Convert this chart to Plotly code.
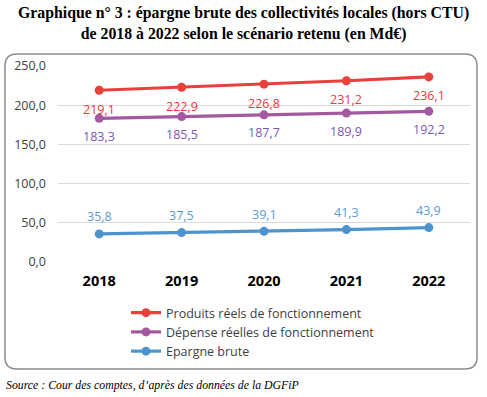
import plotly.graph_objects as go

years = ["2018", "2019", "2020", "2021", "2022"]
produits = [219.1, 222.9, 226.8, 231.2, 236.1]
depenses = [183.3, 185.5, 187.7, 189.9, 192.2]
epargne = [35.8, 37.5, 39.1, 41.3, 43.9]

names = ["Produits réels de fonctionnement", "Dépense réelles de fonctionnement", "Epargne brute"]
line_colors = ["#E8403B", "#A3599F", "#4D94CF"]
text_colors = ["#F5373A", "#7D55B5", "#5B9BD5"]
label_shift = [-19, -18, 17]
series = [produits, depenses, epargne]

def fr(v):
    return f"{v:.1f}".replace(".", ",")

fig = go.Figure()
for name, vals, lc in zip(names, series, line_colors):
    fig.add_trace(go.Scatter(
        x=years, y=vals, name=name, mode="lines+markers",
        line=dict(color=lc, width=3.2), marker=dict(color=lc, size=9),
        cliponaxis=False,
    ))
for vals, tc, sh in zip(series, text_colors, label_shift):
    for i, v in enumerate(vals):
        fig.add_annotation(x=i, y=v, xref="x", yref="y", text=fr(v), showarrow=False, yshift=sh,
                           xanchor="center", yanchor="middle",
                           font=dict(color=tc, size=12.5, family="Open Sans"))

W, H = 487, 397
L, R, T, B = 58, 17, 66, 135
pw, ph = W - L - R, H - T - B

def px_x(x):
    return (x - L) / pw

def px_y(y):
    return (H - B - y) / ph

# rounded box, pixel positions converted to paper coordinates
x0, x1, y0, y1, r = 5, 477, 54, 369, 12
def P(x, y):
    return f"{px_x(x):.5f},{px_y(y):.5f}"
path = (f"M{P(x0 + r, y0)} L{P(x1 - r, y0)} Q{P(x1, y0)} {P(x1, y0 + r)} "
        f"L{P(x1, y1 - r)} Q{P(x1, y1)} {P(x1 - r, y1)} L{P(x0 + r, y1)} "
        f"Q{P(x0, y1)} {P(x0, y1 - r)} L{P(x0, y0 + r)} Q{P(x0, y0)} {P(x0 + r, y0)} Z")

fig.add_shape(type="path", path=path, xref="paper", yref="paper",
              line=dict(color="#8C8C8C", width=1.5), fillcolor="rgba(0,0,0,0)", layer="below")

fig.add_annotation(text="<b>Graphique n° 3 : épargne brute des collectivités locales (hors CTU)<br>de 2018 à 2022 selon le scénario retenu (en Md€)</b>",
                   xref="paper", yref="paper", x=px_x(W / 2), y=px_y(2), xanchor="center", yanchor="top",
                   showarrow=False, align="center",
                   font=dict(family="Liberation Serif", size=15.8, color="#000000"))
fig.add_annotation(text="<i>Source : Cour des comptes, d’après des données de la DGFiP</i>",
                   xref="paper", yref="paper", x=px_x(4), y=px_y(385), xanchor="left", yanchor="middle",
                   showarrow=False, font=dict(family="Liberation Serif", size=11.8, color="#000000"))

fig.update_layout(
    width=W, height=H, margin=dict(l=L, r=R, t=T, b=B, autoexpand=False),
    paper_bgcolor="white", plot_bgcolor="white",
    showlegend=True,
    legend=dict(x=px_x(126), y=px_y(298), xanchor="left", yanchor="top", orientation="v",
                font=dict(family="Open Sans", size=12.5, color="#404040"), bgcolor="rgba(0,0,0,0)"),
    separators=",.",
    font=dict(family="Open Sans"),
)
fig.update_xaxes(type="category", range=[-0.5, 4.5], showgrid=False, showline=False, zeroline=False,
                 ticklabelstandoff=8,
                 tickfont=dict(family="Open Sans", size=14.5, color="#000000", weight="bold"), ticks="")
fig.update_yaxes(range=[0, 250], dtick=50, tickformat=".1f", showgrid=True, gridcolor="#D9D9D9", gridwidth=1.3,
                 zeroline=False, showline=False, ticks="", ticklabelstandoff=11,
                 tickfont=dict(family="Open Sans", size=12.5, color="#404040"))

fig.write_html("out.html", config={"displayModeBar": False},
               post_script="document.body.style.margin='0';")
